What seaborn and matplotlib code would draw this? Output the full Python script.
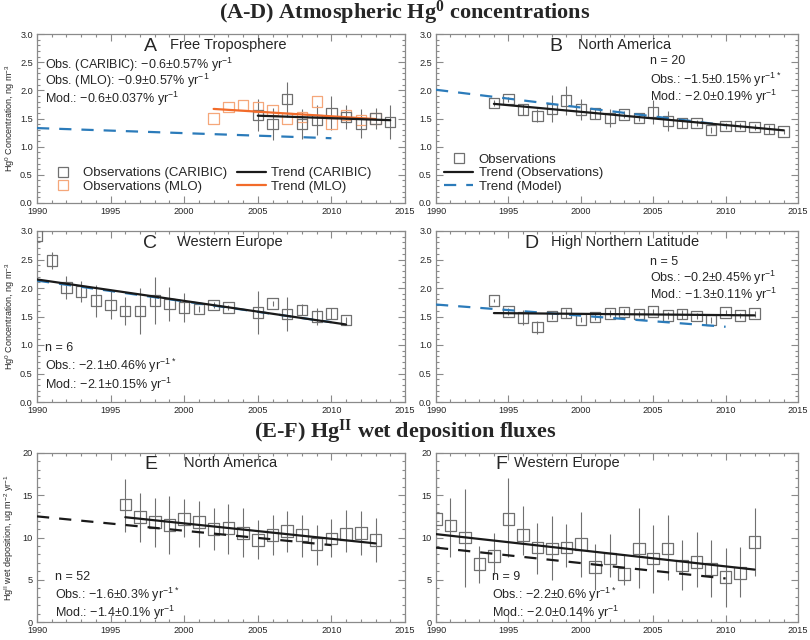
import seaborn as sns
import matplotlib.pyplot as plt
from matplotlib.lines import Line2D
from matplotlib.ticker import MultipleLocator, FormatStrFormatter

# ---- values ----
# A: free troposphere
a_caribic_years = [2005, 2006, 2007, 2008, 2009, 2010, 2011, 2012, 2013, 2014]
a_caribic_obs = [1.56, 1.40, 1.84, 1.40, 1.47, 1.60, 1.53, 1.41, 1.50, 1.44]
a_caribic_err = [0.28, 0.28, 0.31, 0.27, 0.27, 0.30, 0.21, 0.25, 0.19, 0.30]
a_mlo_years = [2002, 2003, 2004, 2005, 2006, 2007, 2008, 2009, 2010, 2011, 2012, 2013]
a_mlo_obs = [1.50, 1.70, 1.74, 1.71, 1.65, 1.50, 1.53, 1.80, 1.41, 1.56, 1.47, 1.50]
a_trend_caribic = ([2005, 2014], [1.55, 1.47])
a_trend_mlo = ([2002, 2013], [1.67, 1.49])
a_model = ([1990, 2010], [1.33, 1.15])

# B: North America (Hg0)
b_years = list(range(1994, 2015))
b_obs = [1.78, 1.84, 1.66, 1.55, 1.67, 1.82, 1.66, 1.59, 1.51, 1.57, 1.51,
         1.61, 1.45, 1.42, 1.42, 1.30, 1.37, 1.37, 1.35, 1.31, 1.27]
b_err = [0.05, 0.05, 0.10, 0.12, 0.24, 0.25, 0.19, 0.10, 0.16, 0.06, 0.06,
         0.21, 0.18, 0.08, 0.06, 0.05, 0.05, 0.05, 0.05, 0.08, 0.05]
b_trend = ([1994, 2014], [1.76, 1.29])
b_model = ([1990, 2010], [2.01, 1.38])

# C: Western Europe (Hg0), no value for 2004
c_years = [1990, 1991, 1992, 1993, 1994, 1995, 1996, 1997, 1998, 1999, 2000,
           2001, 2002, 2003, 2005, 2006, 2007, 2008, 2009, 2010, 2011]
c_obs = [2.92, 2.48, 2.01, 1.94, 1.78, 1.70, 1.60, 1.60, 1.78, 1.72, 1.66,
         1.63, 1.70, 1.66, 1.57, 1.73, 1.54, 1.62, 1.50, 1.55, 1.44]
c_err = [0.03, 0.15, 0.20, 0.18, 0.28, 0.25, 0.25, 0.40, 0.42, 0.30, 0.25,
         0.05, 0.05, 0.05, 0.38, 0.05, 0.30, 0.10, 0.15, 0.10, 0.05]
c_trend = ([1990, 2011], [2.15, 1.36])
c_model = ([1990, 2010], [2.13, 1.40])

# D: High Northern Latitude
d_years = list(range(1994, 2013))
d_obs = [1.78, 1.59, 1.48, 1.31, 1.51, 1.56, 1.45, 1.49, 1.55, 1.58, 1.54,
         1.59, 1.52, 1.54, 1.51, 1.44, 1.57, 1.52, 1.55]
d_err = [0.03, 0.06, 0.13, 0.11, 0.06, 0.08, 0.05, 0.06, 0.06, 0.06, 0.05,
         0.05, 0.06, 0.08, 0.06, 0.05, 0.05, 0.05, 0.05]
d_trend = ([1994, 2012], [1.56, 1.52])
d_model = ([1990, 2010], [1.71, 1.32])

# E: North America wet deposition
e_years = list(range(1996, 2014))
e_obs = [13.9, 12.4, 11.8, 11.5, 12.2, 11.8, 11.0, 11.1, 10.5, 9.7, 10.3,
         10.8, 10.3, 9.2, 9.9, 10.4, 10.5, 9.7]
e_low = [10.7, 9.5, 8.9, 8.1, 10.1, 8.9, 8.5, 8.1, 7.7, 7.5, 7.9, 8.3, 7.7,
         6.7, 7.7, 8.3, 7.9, 7.1]
e_high = [16.9, 15.3, 14.7, 14.9, 14.5, 14.3, 13.5, 14.0, 13.5, 12.1, 12.7,
          13.1, 12.7, 11.5, 12.2, 13.3, 13.1, 12.3]
e_trend = ([1996, 2013], [12.4, 9.3])
e_model = ([1990, 2010], [12.5, 9.1])

# F: Western Europe wet deposition
f_years = list(range(1990, 2013))
f_obs = [12.2, 11.4, 10.0, 6.9, 7.8, 12.2, 10.3, 8.8, 8.7, 8.8, 9.2, 6.5,
         7.5, 5.7, 8.7, 7.5, 8.7, 6.7, 7.1, 6.3, 5.3, 5.8, 9.5]
f_low = [6.6, 7.7, 4.2, 4.6, 5.7, 7.7, 7.9, 5.7, 5.0, 6.5, 5.3, 3.8, 5.3,
         4.4, 4.0, 3.4, 5.0, 3.8, 4.2, 3.0, 1.8, 3.0, 5.5]
f_high = [17.6, 14.7, 15.7, 9.0, 10.5, 17.1, 13.7, 11.7, 12.6, 11.6, 13.0,
          9.2, 10.4, 8.1, 13.5, 11.5, 12.7, 9.7, 10.7, 9.7, 8.7, 8.9, 13.5]
f_trend = ([1990, 2012], [10.4, 6.2])
f_model = ([1990, 2010], [8.8, 5.15])

GREY = "#707070"
FRAME = "#8a8a8a"
BLUE = "#2b7bba"
ORANGE = "#f26b2a"
LIGHT_ORANGE = "#f5a77a"

sns.set_theme(style="ticks")
plt.rcParams["font.family"] = ["Liberation Sans", "DejaVu Sans"]
plt.rcParams["mathtext.fontset"] = "custom"
plt.rcParams["mathtext.rm"] = "Liberation Sans"
plt.rcParams["mathtext.default"] = "regular"


def px_rect(left, top, right, bottom, w=810, h=640):
    return [left / w, 1 - bottom / h, (right - left) / w, (bottom - top) / h]


def style_axes(ax, ymax, ymajor, yminor, yfmt):
    ax.set_xlim(1990, 2015)
    ax.set_ylim(0, ymax)
    ax.xaxis.set_major_locator(MultipleLocator(5))
    ax.xaxis.set_minor_locator(MultipleLocator(1))
    ax.yaxis.set_major_locator(MultipleLocator(ymajor))
    ax.yaxis.set_minor_locator(MultipleLocator(yminor))
    ax.yaxis.set_major_formatter(FormatStrFormatter(yfmt))
    ax.tick_params(which="both", direction="in", top=True, right=True,
                   color=FRAME, width=0.8, labelsize=6.6, pad=3)
    ax.tick_params(which="major", length=5)
    ax.tick_params(which="minor", length=2.5)
    for s in ax.spines.values():
        s.set_color(FRAME)
        s.set_linewidth(0.9)
    ax.set_xlabel("")
    ax.set_ylabel("")


def obs(ax, x, y, err, size=55, color=GREY):
    ax.errorbar(x, y, yerr=err, fmt="none", ecolor=color, elinewidth=0.8)
    sns.scatterplot(x=x, y=y, ax=ax, marker="s", s=size, facecolor="none",
                    edgecolor=color, linewidth=0.9, zorder=3)


def trend(ax, xy, color="k", dashed=False):
    ls = (0, (5.5, 4.5)) if dashed else "-"
    sns.lineplot(x=xy[0], y=xy[1], ax=ax, color=color, linewidth=1.6,
                 linestyle=ls, errorbar=None, zorder=4)


def panel_label(ax, letter, name, xl, xn, y=0.925):
    ax.text(xl, y, letter, transform=ax.transAxes, ha="center", va="center",
            fontsize=14, fontweight="light")
    ax.text(xn, y + 0.008, name, transform=ax.transAxes, ha="left",
            va="center", fontsize=10.5)


def stats(ax, x, ys, lines):
    for yy, s in zip(ys, lines):
        ax.text(x, yy, s, transform=ax.transAxes, ha="left", va="center",
                fontsize=9)


fig = plt.figure(figsize=(8.1, 6.4), dpi=100)
ax_a = fig.add_axes(px_rect(37, 34, 405, 203))
ax_b = fig.add_axes(px_rect(436, 34, 798, 203))
ax_c = fig.add_axes(px_rect(37, 231, 405, 402))
ax_d = fig.add_axes(px_rect(436, 231, 798, 402))
ax_e = fig.add_axes(px_rect(37, 453, 405, 622))
ax_f = fig.add_axes(px_rect(436, 453, 798, 622))

# A
trend(ax_a, a_model, BLUE, dashed=True)
obs(ax_a, a_mlo_years, a_mlo_obs, None, color=LIGHT_ORANGE)
obs(ax_a, a_caribic_years, a_caribic_obs, a_caribic_err)
trend(ax_a, a_trend_mlo, ORANGE)
trend(ax_a, a_trend_caribic, "k")
panel_label(ax_a, "A", "Free Troposphere", 0.307, 0.361)
stats(ax_a, 0.022, [0.82, 0.72, 0.618],
      ["Obs. (CARIBIC): \u22120.6\u00b10.57% yr$^{-1}$",
       "Obs. (MLO): \u22120.9\u00b10.57% yr$^{-1}$",
       "Mod.: \u22120.6\u00b10.037% yr$^{-1}$"])
handles = [
    Line2D([], [], ls="none", marker="s", mfc="none", mec=GREY, ms=7, mew=0.9),
    Line2D([], [], ls="none", marker="s", mfc="none", mec=LIGHT_ORANGE, ms=7, mew=0.9),
    Line2D([], [], color="k", lw=1.6),
    Line2D([], [], color=ORANGE, lw=1.6),
]
ax_a.legend(handles, ["Observations (CARIBIC)", "Observations (MLO)",
                      "Trend (CARIBIC)", "Trend (MLO)"],
            ncol=2, loc="lower left", bbox_to_anchor=(0.0, -0.01),
            frameon=False, fontsize=9.5, handlelength=2.2,
            handletextpad=0.4, columnspacing=0.7, labelspacing=0.1)

# B
trend(ax_b, b_model, BLUE, dashed=True)
obs(ax_b, b_years, b_obs, b_err)
trend(ax_b, b_trend, "k")
panel_label(ax_b, "B", "North America", 0.33, 0.393)
stats(ax_b, 0.59, [0.84, 0.73, 0.63],
      ["n = 20", "Obs.: \u22121.5\u00b10.15% yr$^{-1*}$",
       "Mod.: \u22122.0\u00b10.19% yr$^{-1}$"])
handles = [
    Line2D([], [], ls="none", marker="s", mfc="none", mec=GREY, ms=7, mew=0.9),
    Line2D([], [], color="k", lw=1.6),
    Line2D([], [], color=BLUE, lw=1.6, ls=(0, (5.5, 4.5))),
]
ax_b.legend(handles, ["Observations", "Trend (Observations)", "Trend (Model)"],
            loc="lower left", bbox_to_anchor=(-0.01, -0.01), frameon=False,
            fontsize=9.5, handlelength=2.2, handletextpad=0.4,
            labelspacing=0.1)

# C
trend(ax_c, c_model, BLUE, dashed=True)
obs(ax_c, c_years, c_obs, c_err)
trend(ax_c, c_trend, "k")
panel_label(ax_c, "C", "Western Europe", 0.307, 0.38)
stats(ax_c, 0.022, [0.316, 0.21, 0.10],
      ["n = 6", "Obs.: \u22122.1\u00b10.46% yr$^{-1*}$",
       "Mod.: \u22122.1\u00b10.15% yr$^{-1}$"])

# D
trend(ax_d, d_model, BLUE, dashed=True)
obs(ax_d, d_years, d_obs, d_err)
trend(ax_d, d_trend, "k")
panel_label(ax_d, "D", "High Northern Latitude", 0.265, 0.317)
stats(ax_d, 0.59, [0.82, 0.725, 0.625],
      ["n = 5", "Obs.: \u22120.2\u00b10.45% yr$^{-1}$",
       "Mod.: \u22121.3\u00b10.11% yr$^{-1}$"])

# E
e_err = [[o - lo for o, lo in zip(e_obs, e_low)],
         [hi - o for o, hi in zip(e_obs, e_high)]]
obs(ax_e, e_years, e_obs, e_err, size=70)
trend(ax_e, e_model, "k", dashed=True)
trend(ax_e, e_trend, "k")
panel_label(ax_e, "E", "North America", 0.31, 0.40, y=0.93)
stats(ax_e, 0.05, [0.266, 0.16, 0.053],
      ["n = 52", "Obs.: \u22121.6\u00b10.3% yr$^{-1*}$",
       "Mod.: \u22121.4\u00b10.1% yr$^{-1}$"])

# F
f_err = [[o - lo for o, lo in zip(f_obs, f_low)],
         [hi - o for o, hi in zip(f_obs, f_high)]]
obs(ax_f, f_years, f_obs, f_err, size=70)
trend(ax_f, f_model, "k", dashed=True)
trend(ax_f, f_trend, "k")
panel_label(ax_f, "F", "Western Europe", 0.18, 0.216, y=0.93)
stats(ax_f, 0.156, [0.266, 0.16, 0.053],
      ["n = 9", "Obs.: \u22122.2\u00b10.6% yr$^{-1*}$",
       "Mod.: \u22122.0\u00b10.14% yr$^{-1}$"])

for ax in (ax_a, ax_b, ax_c, ax_d):
    style_axes(ax, 3.0, 0.5, 0.1, "%.1f")
for ax in (ax_e, ax_f):
    style_axes(ax, 20, 5, 1, "%d")

ax_a.set_ylabel("Hg$^0$ Concentration, ng m$^{-3}$", fontsize=6.5, labelpad=2)
ax_c.set_ylabel("Hg$^0$ Concentration, ng m$^{-3}$", fontsize=6.5, labelpad=2)
ax_e.set_ylabel("Hg$^{II}$ wet deposition, ug m$^{-2}$ yr$^{-1}$", fontsize=6.5,
                labelpad=5)

fig.text(0.5, 1 - 13 / 640, "(A-D) Atmospheric Hg$^0$ concentrations",
         ha="center", va="center", fontsize=16, fontweight="bold",
         family="Liberation Serif")
fig.text(0.5, 1 - 432 / 640, "(E-F) Hg$^{II}$ wet deposition fluxes",
         ha="center", va="center", fontsize=16, fontweight="bold",
         family="Liberation Serif")

fig.savefig("out.png", dpi=100)
